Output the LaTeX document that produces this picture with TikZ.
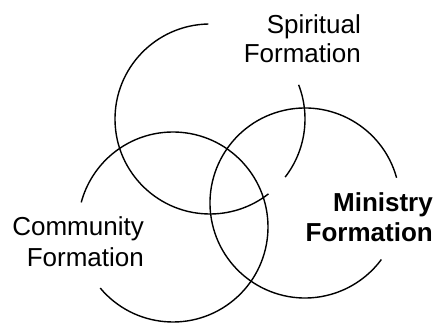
\documentclass[tikz,border=0pt]{standalone}
\usepackage{fontspec}
\setmainfont{Liberation Sans}
\begin{document}
\begin{tikzpicture}[x=1pt,y=1pt,
  ring/.style={line width=1.4pt, black},
  lbl/.style={anchor=base east, inner sep=0pt, font=\fontsize{26}{29}\selectfont},
  lblb/.style={lbl, font=\fontsize{26}{29}\selectfont\bfseries}]
\useasboundingbox (0,0) rectangle (436,323);
% centres
\coordinate (cs) at (210,204);
\coordinate (cm) at (305,120);
\coordinate (cc) at (173,96);
% Spiritual circle
\draw[ring] (cs) ++(91:95) arc[start angle=91, end angle=308, radius=95];
\draw[ring] (cs) ++(-37.7:95) arc[start angle=-37.7, end angle=21.1, radius=95];
% Ministry circle
\draw[ring] (cm) ++(15.4:95) arc[start angle=15.4, end angle=323.5, radius=95];
% Community circle
\draw[ring] (cc) ++(-140:95) arc[start angle=-140, end angle=165, radius=95];
% labels
\node[lbl] (s1) at (361,289) {Spiritual};
\node[lbl] (s2) at (361,260) {Formation};
\node[lbl] (c1) at (144,87) {Community};
\node[lbl] (c2) at (144,56) {Formation};
\node[lblb] (m1) at (433,111) {Ministry};
\node[lblb] (m2) at (433,81) {Formation};
\end{tikzpicture}
\end{document}
